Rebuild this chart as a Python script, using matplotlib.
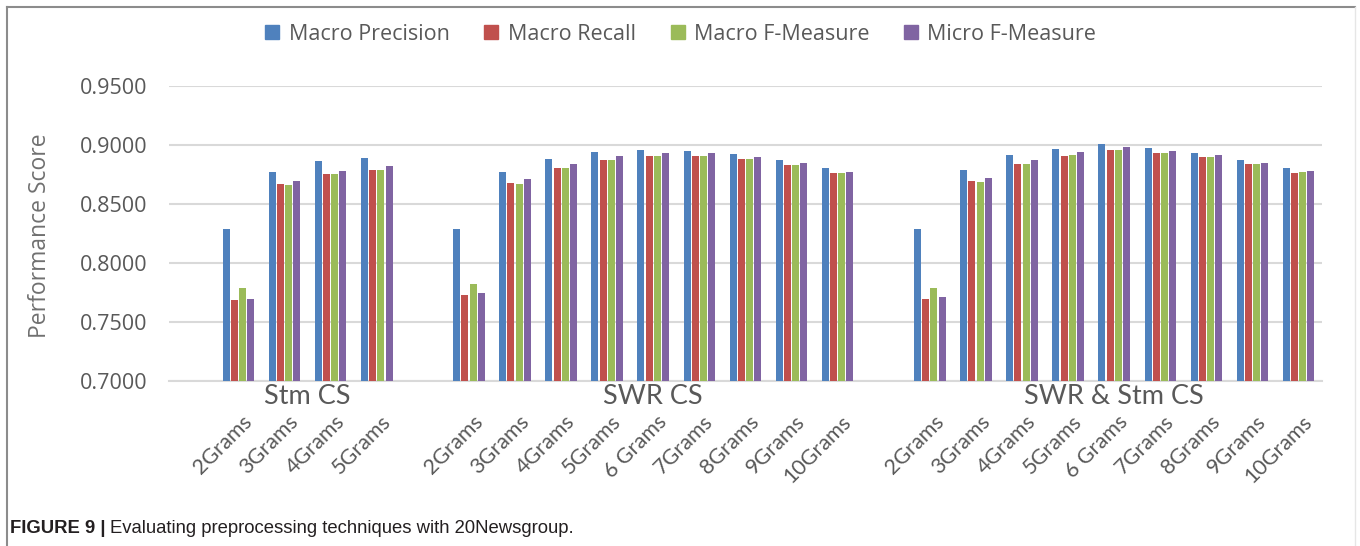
#!/usr/bin/env python3

"""
Bar chart of preprocessing techniques on 20Newsgroup.
Saves out.png
"""

import numpy as np
import matplotlib
matplotlib.use("Agg")
import matplotlib.pyplot as plt
from matplotlib.ticker import FormatStrFormatter
from matplotlib.lines import Line2D

GROUPS = ["Stm CS", "SWR CS", "SWR & Stm CS"]
STM_CATS = ["2Grams", "3Grams", "4Grams", "5Grams"]
NGRAM_CATS = ["2Grams", "3Grams", "4Grams", "5Grams", "6 Grams",
              "7Grams", "8Grams", "9Grams", "10Grams"]
GROUP_CATS = [STM_CATS, NGRAM_CATS, NGRAM_CATS]

SERIES = ["Macro Precision", "Macro Recall", "Macro F-Measure", "Micro F-Measure"]
COLORS = ["#4F81BD", "#C0504D", "#9BBB59", "#8064A2"]

# per group: Stm CS, SWR CS, SWR & Stm CS
macro_precision = [
    [0.8288, 0.8774, 0.8864, 0.8893],
    [0.8291, 0.8768, 0.8884, 0.8941, 0.8958, 0.8952, 0.8921, 0.8870, 0.8802],
    [0.8285, 0.8785, 0.8918, 0.8969, 0.9006, 0.8972, 0.8935, 0.8870, 0.8808],
]
macro_recall = [
    [0.7684, 0.8667, 0.8751, 0.8785],
    [0.7729, 0.8678, 0.8802, 0.8870, 0.8907, 0.8907, 0.8879, 0.8831, 0.8760],
    [0.7692, 0.8692, 0.8842, 0.8907, 0.8955, 0.8932, 0.8895, 0.8836, 0.8766],
]
macro_f = [
    [0.7785, 0.8658, 0.8751, 0.8791],
    [0.7822, 0.8672, 0.8802, 0.8870, 0.8907, 0.8910, 0.8881, 0.8833, 0.8766],
    [0.7788, 0.8686, 0.8842, 0.8912, 0.8960, 0.8932, 0.8901, 0.8836, 0.8771],
]
micro_f = [
    [0.7692, 0.8695, 0.8782, 0.8822],
    [0.7743, 0.8709, 0.8836, 0.8904, 0.8929, 0.8929, 0.8901, 0.8847, 0.8771],
    [0.7712, 0.8720, 0.8870, 0.8938, 0.8980, 0.8952, 0.8915, 0.8847, 0.8777],
]

Y_TICKS = [0.70, 0.75, 0.80, 0.85, 0.90, 0.95]

TEXT_GRAY = "#595959"
GRID_GRAY = "#D9D9D9"


def slot_positions():
    # one empty slot before each group of categories
    pos, labels, centers = [], [], []
    k = 0
    for cats in GROUP_CATS:
        k += 1
        start = k
        for c in cats:
            pos.append(k)
            labels.append(c)
            k += 1
        centers.append((start + k - 1) / 2)
    return np.array(pos, dtype=float), labels, centers, k


def main():
    pos, labels, centers, n_slots = slot_positions()
    all_series = [macro_precision, macro_recall, macro_f, micro_f]

    fig = plt.figure(figsize=(13.6, 5.46), dpi=100)
    ax = fig.add_axes([0.1245, 0.3022, 0.8473, 0.5403])

    step = 0.178
    for i, (name, vals, col) in enumerate(zip(SERIES, all_series, COLORS)):
        flat = [v for grp in vals for v in grp]
        ax.bar(pos + (i - 1.5) * step, flat, width=0.152, color=col,
               label=name, zorder=3)

    ax.set_xlim(-0.5, n_slots - 0.5)
    ax.set_ylim(0.70, 0.95)
    ax.set_yticks(Y_TICKS)
    ax.yaxis.set_major_formatter(FormatStrFormatter("%.4f"))
    ax.grid(axis="y", color=GRID_GRAY, linewidth=1.5, zorder=0)
    for s in ["left", "right", "top"]:
        ax.spines[s].set_visible(False)
    ax.spines["bottom"].set_color(GRID_GRAY)
    ax.spines["bottom"].set_linewidth(1.5)
    ax.tick_params(axis="y", length=0, pad=16, labelsize=15.5,
                   labelcolor=TEXT_GRAY)
    for t in ax.get_yticklabels():
        t.set_fontfamily("Open Sans")

    ax.set_xticks(pos + 0.08)
    ax.set_xticklabels(labels, rotation=45, ha="right", va="top",
                       rotation_mode="anchor", fontsize=15.5,
                       color=TEXT_GRAY, family="Lato")
    ax.tick_params(axis="x", length=0, pad=22)

    ax.set_ylabel("Performance Score", fontsize=16.5, color="#707070",
                  family="Open Sans")
    ax.yaxis.set_label_coords(-0.1015, 0.493)

    # group names sit just under the axis line
    tr = ax.get_xaxis_transform()
    for name, c in zip(GROUPS, centers):
        ax.text(c, -0.052, name, transform=tr, ha="center", va="center",
                fontsize=19.5, color=TEXT_GRAY, family="Lato")

    handles = [Line2D([], [], marker="s", linestyle="none", markersize=10,
                      markerfacecolor=c, markeredgecolor=c) for c in COLORS]
    fig.legend(handles, SERIES, loc="center", bbox_to_anchor=(0.5, 0.937),
               ncol=4, frameon=False, handlelength=0.8, handletextpad=0.35,
               columnspacing=1.55, prop={"family": "Open Sans", "size": 15.5},
               labelcolor=TEXT_GRAY)

    # frame round the figure
    fig.add_artist(Line2D([0.0055, 0.0055], [0, 0.9863], color="#8C8C8C",
                          linewidth=1.5, transform=fig.transFigure))
    fig.add_artist(Line2D([0.0055, 0.9963], [0.9863, 0.9863], color="#8C8C8C",
                          linewidth=1.5, transform=fig.transFigure))
    fig.add_artist(Line2D([0.9963, 0.9963], [0, 0.9863], color="#E6E6E6",
                          linewidth=1.0, transform=fig.transFigure))

    cap_font = ["Liberation Sans Narrow", "Liberation Sans"]
    t1 = fig.text(0.0075, 0.024, "FIGURE 9 |", fontsize=13.3, weight="bold",
                  family=cap_font, color="#231F20")
    fig.canvas.draw()
    bb = t1.get_window_extent()
    x2 = (bb.x1 + 4) / fig.bbox.width
    fig.text(x2, 0.024, "Evaluating preprocessing techniques with 20Newsgroup.",
             fontsize=13.3, family=cap_font, color="#231F20")

    fig.savefig("out.png", dpi=100)
    plt.close(fig)


if __name__ == "__main__":
    main()
